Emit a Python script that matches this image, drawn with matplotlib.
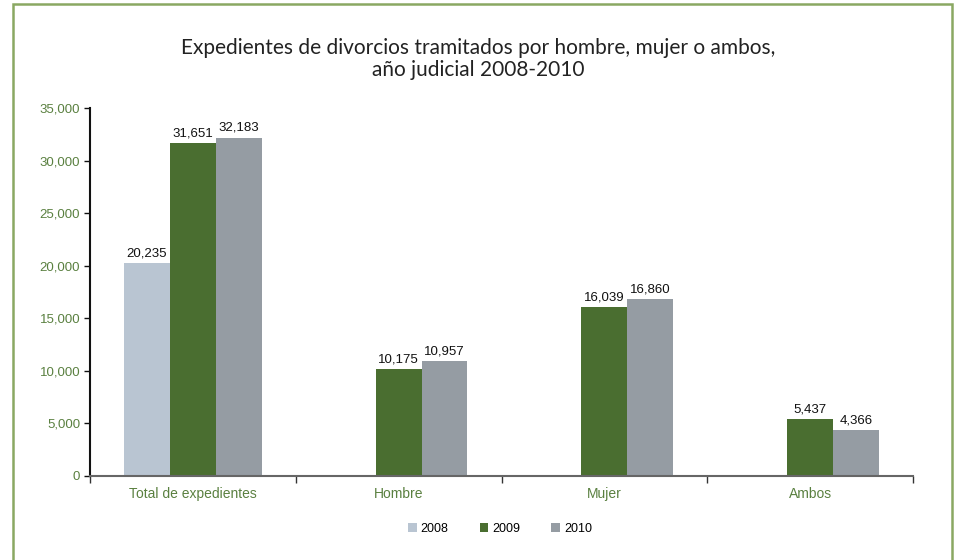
import numpy as np
import matplotlib
matplotlib.use("Agg")
import matplotlib.pyplot as plt
from matplotlib.patches import Rectangle

categories = ["Total de expedientes", "Hombre", "Mujer", "Ambos"]
years = ["2008", "2009", "2010"]
v2008 = [20235, np.nan, np.nan, np.nan]
v2009 = [31651, 10175, 16039, 5437]
v2010 = [32183, 10957, 16860, 4366]
yticks = [0, 5000, 10000, 15000, 20000, 25000, 30000, 35000]
title = "Expedientes de divorcios tramitados por hombre, mujer o ambos,\naño judicial 2008-2010"

colors = ["#b9c5d2", "#4a6e30", "#959ca3"]
green_txt = "#5a8040"

fig = plt.figure(figsize=(9.57, 5.6), dpi=100)
ax = fig.add_axes([90/957, 1-476/560, (913-90)/957, (476-108)/560])

x = np.arange(len(categories))
w = 0.223
series = [v2008, v2009, v2010]
for i, (vals, c, lab) in enumerate(zip(series, colors, years)):
    xs = x + (i - 1) * w
    ax.bar(xs, vals, width=w, color=c, label=lab, zorder=2)
    for xx, v in zip(xs, vals):
        if not np.isnan(v):
            ax.text(xx, v + 350, f"{int(v):,}", ha="center", va="bottom",
                    fontsize=9.5, family="Liberation Sans", color="#111111")

ax.set_xlim(-0.5, len(categories) - 0.5)
ax.set_ylim(0, 35000)
ax.set_yticks(yticks)
ax.set_yticklabels([f"{t:,}" for t in yticks], family="Liberation Sans",
                   fontsize=9.5, color=green_txt)
ax.set_xticks(x)
ax.set_xticklabels(categories, family="Liberation Sans", fontsize=10, color=green_txt)
ax.tick_params(axis="x", which="major", length=0, pad=8)
ax.set_xticks(np.arange(-0.5, len(categories), 1.0), minor=True)
ax.tick_params(axis="x", which="minor", length=5, width=1, color="#333333", direction="out")
ax.tick_params(axis="y", length=4, width=1, color="#111111", direction="out", pad=3)

for s in ["top", "right"]:
    ax.spines[s].set_visible(False)
ax.spines["left"].set_color("#111111")
ax.spines["left"].set_linewidth(1.5)
ax.spines["bottom"].set_color("#666666")
ax.spines["bottom"].set_linewidth(1.5)
ax.spines["bottom"].set_zorder(3)

fig.text(0.5, 1 - 59/560, title, ha="center", va="center", fontsize=15,
         family="Lato", fontweight="normal", color="#222222", linespacing=1.15)

fig.legend(loc="center", bbox_to_anchor=(500/957, 1 - 529/560), ncol=3,
           frameon=False, handlelength=0.7, handleheight=0.7,
           handletextpad=0.3, columnspacing=2.5,
           prop={"family": "Liberation Sans", "size": 9})

fig.patches.append(Rectangle((13/957, -0.05), (952-13)/957, 1.05 - 4/560,
                             transform=fig.transFigure, fill=False,
                             edgecolor="#8aa862", linewidth=1.8))

fig.savefig("out.png", dpi=100)
